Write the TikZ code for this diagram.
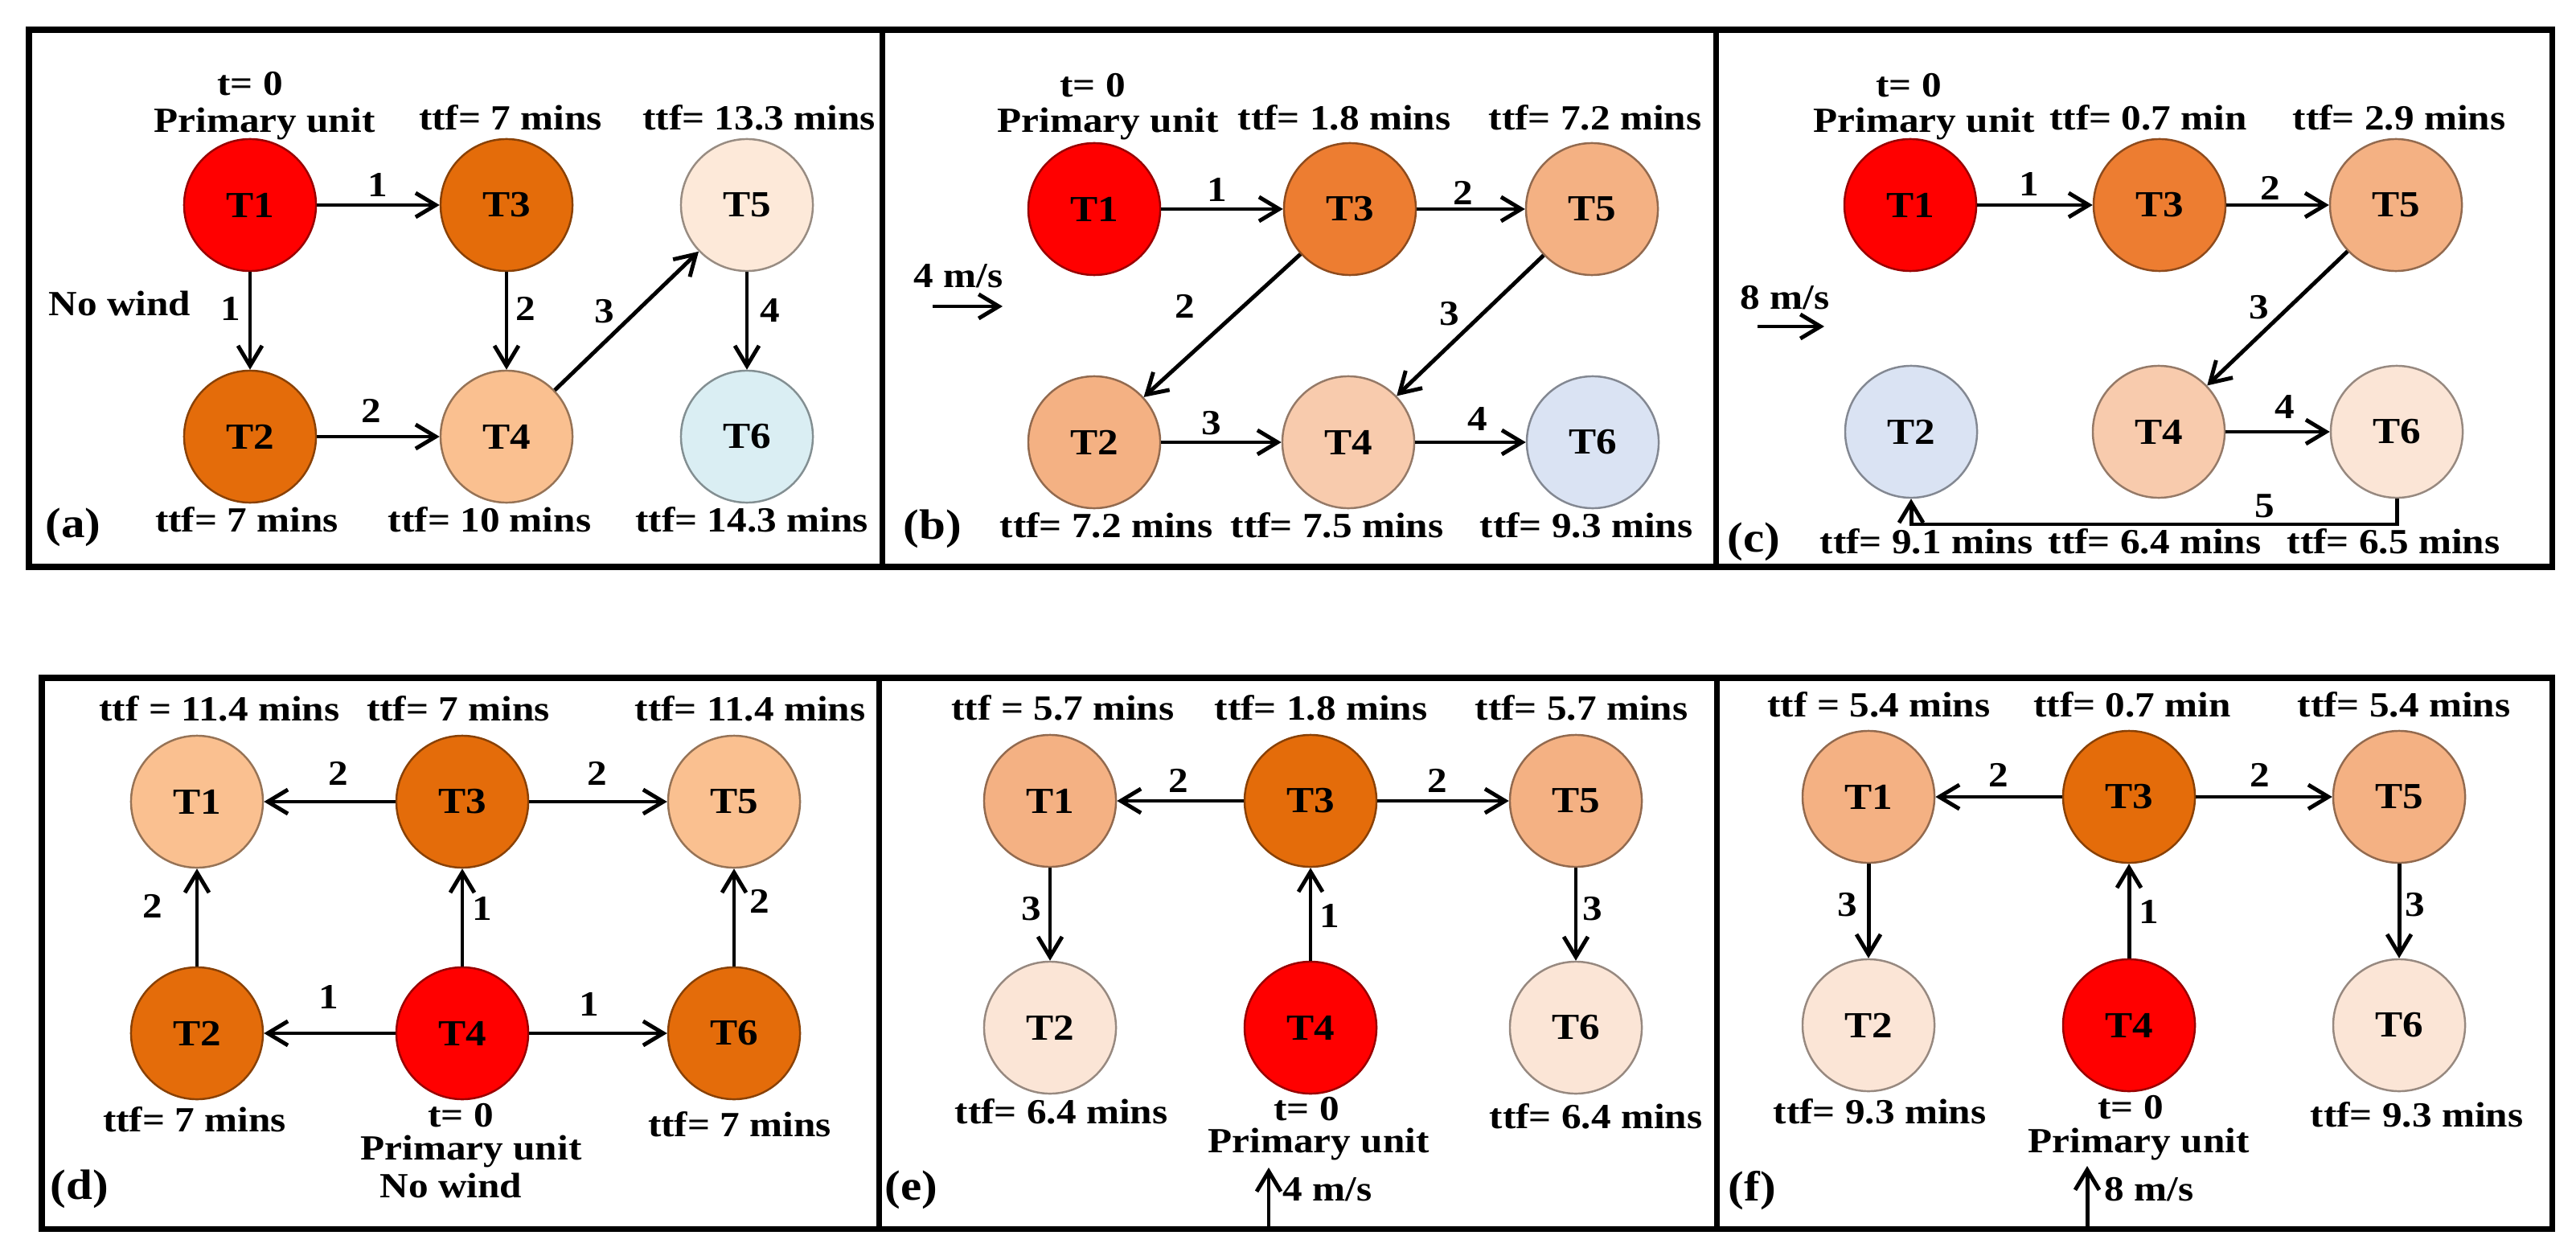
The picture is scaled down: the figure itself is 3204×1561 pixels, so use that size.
\documentclass[tikz,border=0pt]{standalone}
\usepackage{fontspec}
\setmainfont{Liberation Serif}[FakeStretch=1.12]
\usetikzlibrary{arrows.meta}
\definecolor{cRed}{HTML}{FF0000}
\definecolor{cDk}{HTML}{E46C0A}
\definecolor{cOr}{HTML}{ED7D31}
\definecolor{cPe}{HTML}{F4B183}
\definecolor{cLo}{HTML}{FAC090}
\definecolor{cLp}{HTML}{F8CBAD}
\definecolor{cVl}{HTML}{FBE5D6}
\definecolor{cVa}{HTML}{FDE9D9}
\definecolor{cBa}{HTML}{DAEEF3}
\definecolor{cBb}{HTML}{DAE3F3}
\tikzset{
 tank/.style={circle, minimum size=1.64cm, inner sep=0pt, fill=#1, draw=#1!60!black, line width=0.7pt, font=\bfseries\fontsize{13}{15}\selectfont},
 txt/.style={anchor=base, inner sep=0pt, font=\bfseries\fontsize{12.5}{14}\selectfont},
 num/.style={inner sep=0pt, font=\bfseries\fontsize{12.5}{14}\selectfont},
 flow/.style={line width=1.4pt, -{Straight Barb[length=2.5mm,width=3mm]}},
 panel/.style={line width=2pt},
 tag/.style={anchor=base west, inner sep=0pt, font=\bfseries\fontsize{15}{17}\selectfont},
}
\begin{document}
\begin{tikzpicture}[x=0.01cm, y=-0.01cm]
\useasboundingbox (0,0) rectangle (3204,1561);
% panel frames
\draw[panel] (36,37) rectangle (1097,705);
\draw[panel] (1097,37) rectangle (2134,705);
\draw[panel] (2134,37) rectangle (3174,705);
\draw[panel] (52,843) rectangle (1093,1528);
\draw[panel] (1093,843) rectangle (2135,1528);
\draw[panel] (2135,843) rectangle (3174,1528);

% ---------------- (a)
\node[tank=cRed] (a1) at (311,255) {T1};
\node[tank=cDk] (a3) at (630,255) {T3};
\node[tank=cVa] (a5) at (929,255) {T5};
\node[tank=cDk] (a2) at (311,543) {T2};
\node[tank=cLo] (a4) at (630,543) {T4};
\node[tank=cBa] (a6) at (929,543) {T6};
\draw[flow] (a1) -- (a3);
\draw[flow] (a1) -- (a2);
\draw[flow] (a3) -- (a4);
\draw[flow] (a2) -- (a4);
\draw[flow] (a4) -- (a5);
\draw[flow] (a5) -- (a6);
\node[num] (an1) at (470,230) {1};
\node[num] (an2) at (287,384) {1};
\node[num] (an3) at (654,384) {2};
\node[num] (an4) at (462,511) {2};
\node[num] (an5) at (752,387) {3};
\node[num] (an6) at (958,386) {4};
\node[txt] (at0) at (311,119) {t= 0};
\node[txt] (atp) at (329,165) {Primary unit};
\node[txt] (at3) at (635,162) {ttf= 7 mins};
\node[txt] (at5) at (944,162) {ttf= 13.3 mins};
\node[txt] (anw) at (149,393) {No wind};
\node[txt] (at2) at (307,661) {ttf= 7 mins};
\node[txt] (at4) at (609,661) {ttf= 10 mins};
\node[txt] (at6) at (935,661) {ttf= 14.3 mins};
\node[tag] (atag) at (56,668) {(a)};

% ---------------- (b)
\node[tank=cRed] (b1) at (1361,260) {T1};
\node[tank=cOr] (b3) at (1679,260) {T3};
\node[tank=cPe] (b5) at (1980,260) {T5};
\node[tank=cPe] (b2) at (1361,550) {T2};
\node[tank=cLp] (b4) at (1677,550) {T4};
\node[tank=cBb] (b6) at (1981,550) {T6};
\draw[flow] (b1) -- (b3);
\draw[flow] (b3) -- (b5);
\draw[flow] (b3) -- (b2);
\draw[flow] (b5) -- (b4);
\draw[flow] (b2) -- (b4);
\draw[flow] (b4) -- (b6);
\node[num] (bn1) at (1514,236) {1};
\node[num] (bn2) at (1820,240) {2};
\node[num] (bn3) at (1474,381) {2};
\node[num] (bn4) at (1803,390) {3};
\node[num] (bn5) at (1507,526) {3};
\node[num] (bn6) at (1838,521) {4};
\node[txt] (bt0) at (1359,121) {t= 0};
\node[txt] (btp) at (1378,165) {Primary unit};
\node[txt] (bt3) at (1672,162) {ttf= 1.8 mins};
\node[txt] (bt5) at (1984,162) {ttf= 7.2 mins};
\node[txt] (bt2) at (1376,668) {ttf= 7.2 mins};
\node[txt] (bt4) at (1663,668) {ttf= 7.5 mins};
\node[txt] (bt6) at (1973,668) {ttf= 9.3 mins};
\node[tag] (btag) at (1123,670) {(b)};
\node[txt] (bws) at (1192,357) {4 m/s};
\coordinate (bw1) at (1160,381);
\coordinate (bw2) at (1247,381);
\draw[flow] (bw1) -- (bw2);

% ---------------- (c)
\node[tank=cRed] (c1) at (2376,255) {T1};
\node[tank=cOr] (c3) at (2686,255) {T3};
\node[tank=cPe] (c5) at (2980,255) {T5};
\node[tank=cBb] (c2) at (2377,537) {T2};
\node[tank=cLp] (c4) at (2685,537) {T4};
\node[tank=cVl] (c6) at (2981,537) {T6};
\draw[flow] (c1) -- (c3);
\draw[flow] (c3) -- (c5);
\draw[flow] (c5) -- (c4);
\draw[flow] (c4) -- (c6);
\coordinate (ce) at (2377,652);
\draw[flow] (c6.south) |- (ce) -- (c2.south);
\node[num] (cn1) at (2524,229) {1};
\node[num] (cn2) at (2824,234) {2};
\node[num] (cn3) at (2810,382) {3};
\node[num] (cn4) at (2842,506) {4};
\node[num] (cn5) at (2817,629) {5};
\node[txt] (ct0) at (2374,121) {t= 0};
\node[txt] (ctp) at (2393,165) {Primary unit};
\node[txt] (ct3) at (2672,162) {ttf= 0.7 min};
\node[txt] (ct5) at (2984,162) {ttf= 2.9 mins};
\node[txt] (ct2) at (2396,688) {ttf= 9.1 mins};
\node[txt] (ct4) at (2680,688) {ttf= 6.4 mins};
\node[txt] (ct6) at (2977,688) {ttf= 6.5 mins};
\node[tag] (ctag) at (2148,686) {(c)};
\node[txt] (cws) at (2220,385) {8 m/s};
\coordinate (cw1) at (2186,406);
\coordinate (cw2) at (2269,406);
\draw[flow] (cw1) -- (cw2);

% ---------------- (d)
\node[tank=cLo] (d1) at (245,997) {T1};
\node[tank=cDk] (d3) at (575,997) {T3};
\node[tank=cLo] (d5) at (913,997) {T5};
\node[tank=cDk] (d2) at (245,1285) {T2};
\node[tank=cRed] (d4) at (575,1285) {T4};
\node[tank=cDk] (d6) at (913,1285) {T6};
\draw[flow] (d3) -- (d1);
\draw[flow] (d3) -- (d5);
\draw[flow] (d4) -- (d3);
\draw[flow] (d4) -- (d2);
\draw[flow] (d4) -- (d6);
\draw[flow] (d2) -- (d1);
\draw[flow] (d6) -- (d5);
\node[num] (dn1) at (421,962) {2};
\node[num] (dn2) at (743,962) {2};
\node[num] (dn3) at (190,1127) {2};
\node[num] (dn4) at (600,1130) {1};
\node[num] (dn5) at (945,1121) {2};
\node[num] (dn6) at (409,1240) {1};
\node[num] (dn7) at (733,1249) {1};
\node[txt] (dt1) at (273,896) {ttf = 11.4 mins};
\node[txt] (dt3) at (570,896) {ttf= 7 mins};
\node[txt] (dt5) at (933,896) {ttf= 11.4 mins};
\node[txt] (dt2) at (242,1407) {ttf= 7 mins};
\node[txt] (dt0) at (573,1401) {t= 0};
\node[txt] (dtp) at (586,1442) {Primary unit};
\node[txt] (dnw) at (561,1489) {No wind};
\node[txt] (dt6) at (920,1413) {ttf= 7 mins};
\node[tag] (dtag) at (62,1491) {(d)};

% ---------------- (e)
\node[tank=cPe] (e1) at (1306,996) {T1};
\node[tank=cDk] (e3) at (1630,996) {T3};
\node[tank=cPe] (e5) at (1960,996) {T5};
\node[tank=cVl] (e2) at (1306,1278) {T2};
\node[tank=cRed] (e4) at (1630,1278) {T4};
\node[tank=cVl] (e6) at (1960,1278) {T6};
\draw[flow] (e3) -- (e1);
\draw[flow] (e3) -- (e5);
\draw[flow] (e4) -- (e3);
\draw[flow] (e1) -- (e2);
\draw[flow] (e5) -- (e6);
\node[num] (en1) at (1466,971) {2};
\node[num] (en2) at (1788,971) {2};
\node[num] (en3) at (1283,1130) {3};
\node[num] (en4) at (1654,1139) {1};
\node[num] (en5) at (1981,1130) {3};
\node[txt] (et1) at (1322,895) {ttf = 5.7 mins};
\node[txt] (et3) at (1643,895) {ttf= 1.8 mins};
\node[txt] (et5) at (1967,895) {ttf= 5.7 mins};
\node[txt] (et2) at (1320,1397) {ttf= 6.4 mins};
\node[txt] (et0) at (1625,1393) {t= 0};
\node[txt] (etp) at (1640,1433) {Primary unit};
\node[txt] (et6) at (1985,1403) {ttf= 6.4 mins};
\node[tag] (etag) at (1100,1492) {(e)};
\coordinate (ew1) at (1578,1526);
\coordinate (ew2) at (1578,1452);
\draw[flow] (ew1) -- (ew2);
\node[txt] (ews) at (1651,1493) {4 m/s};

% ---------------- (f)
\node[tank=cPe] (f1) at (2324,991) {T1};
\node[tank=cDk] (f3) at (2648,991) {T3};
\node[tank=cPe] (f5) at (2984,991) {T5};
\node[tank=cVl] (f2) at (2324,1275) {T2};
\node[tank=cRed] (f4) at (2648,1275) {T4};
\node[tank=cVl] (f6) at (2984,1275) {T6};
\draw[flow] (f3) -- (f1);
\draw[flow] (f3) -- (f5);
\draw[flow] (f4) -- (f3);
\draw[flow] (f1) -- (f2);
\draw[flow] (f5) -- (f6);
\node[num] (fn1) at (2486,964) {2};
\node[num] (fn2) at (2811,964) {2};
\node[num] (fn3) at (2298,1125) {3};
\node[num] (fn4) at (2673,1134) {1};
\node[num] (fn5) at (3004,1125) {3};
\node[txt] (ft1) at (2337,891) {ttf = 5.4 mins};
\node[txt] (ft3) at (2652,891) {ttf= 0.7 min};
\node[txt] (ft5) at (2990,891) {ttf= 5.4 mins};
\node[txt] (ft2) at (2338,1397) {ttf= 9.3 mins};
\node[txt] (ft0) at (2650,1391) {t= 0};
\node[txt] (ftp) at (2660,1433) {Primary unit};
\node[txt] (ft6) at (3006,1401) {ttf= 9.3 mins};
\node[tag] (ftag) at (2149,1493) {(f)};
\coordinate (fw1) at (2596,1526);
\coordinate (fw2) at (2596,1450);
\draw[flow] (fw1) -- (fw2);
\node[txt] (fws) at (2673,1493) {8 m/s};
\end{tikzpicture}
\end{document}
